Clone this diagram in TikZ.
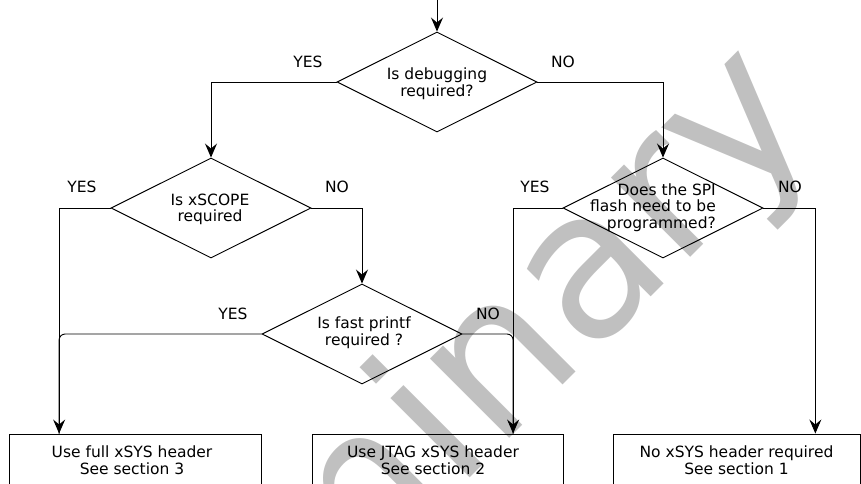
\documentclass[tikz,border=0pt]{standalone}
\usepackage{fontspec}
\setmainfont{DejaVu Sans}
\usetikzlibrary{shapes.geometric,arrows.meta,calc}
\definecolor{wm}{RGB}{192,192,192}
\begin{document}
\begin{tikzpicture}[x=1pt,y=-1pt,
  line/.style={line width=0.95pt},
  arr/.style={line, -{Stealth[length=14pt,width=12pt,inset=5pt]}},
  dia/.style={draw, line width=0.95pt, diamond, minimum width=200pt, minimum height=100pt, inner sep=0pt},
  boxst/.style={draw, line width=0.95pt, rectangle, minimum height=70pt, inner sep=0pt},
  txt/.style={inner sep=0pt, align=center, font=\fontsize{15.5}{16.7}\selectfont},
  lbl/.style={inner sep=0pt, font=\fontsize{15.5}{16.7}\selectfont}]
\useasboundingbox (0,0) rectangle (861,483);
\clip (0,0) rectangle (861,483);
% watermark
\node[rotate=45, anchor=base east, inner sep=0pt, text=wm, font=\fontsize{205}{205}\selectfont] (wmk) at (822.6,125.4) {Preliminary};
% decisions
\coordinate (start) at (437,0);
\node[dia] (d1) at (437,82) {};
\node[dia] (xs) at (211,208) {};
\node[dia] (fp) at (362,334) {};
\node[dia] (sp) at (663,208) {};
\node[txt] (d1t) at (437,83.6) {Is debugging\\required?};
\node[txt] (xst) at (210,209.5) {Is xSCOPE\\required};
\node[txt] (fpt) at (364,332.5) {Is fast printf\\required ?};
\node[txt, align=right, anchor=east] (spt) at (716,207.5) {Does the SPI\\flash need to be\\programmed?};
% result boxes
\node[boxst, minimum width=252pt] (b1) at (135,469) {};
\node[boxst, minimum width=251pt] (b2) at (437.5,469) {};
\node[boxst, minimum width=247pt] (b3) at (736.5,469) {};
\node[txt] (b1t) at (132,460.5) {Use full xSYS header\\See section 3};
\node[txt] (b2t) at (433,460.5) {Use JTAG xSYS header\\See section 2};
\node[txt] (b3t) at (736.5,460.5) {No xSYS header required\\See section 1};
% labels
\node[lbl] (l1) at (308,62) {YES};
\node[lbl] (l2) at (563,62) {NO};
\node[lbl] (l3) at (82,187) {YES};
\node[lbl] (l4) at (337,187) {NO};
\node[lbl] (l5) at (535,187) {YES};
\node[lbl] (l6) at (790,187) {NO};
\node[lbl] (l7) at (233,314) {YES};
\node[lbl] (l8) at (488,314) {NO};
% connectors
\coordinate (in1) at ($(b1.north west)!0.2!(b1.north east)$);
\coordinate (in2) at ($(b2.north west)!0.8!(b2.north east)$);
\coordinate (in3) at ($(b3.north west)!0.818!(b3.north east)$);
\draw[arr] (start) -- (d1.north);
\draw[arr] (d1.west) -| (xs.north);
\draw[arr] (d1.east) -| (sp.north);
\draw[arr] (xs.west) -| (in1);
\draw[arr] (xs.east) -| (fp.north);
\draw[line, rounded corners=6pt] (fp.west) -| (in1);
\draw[line, rounded corners=6pt] (fp.east) -| (in2);
\draw[arr] (sp.west) -| (in2);
\draw[arr] (sp.east) -| (in3);
\end{tikzpicture}
\end{document}
